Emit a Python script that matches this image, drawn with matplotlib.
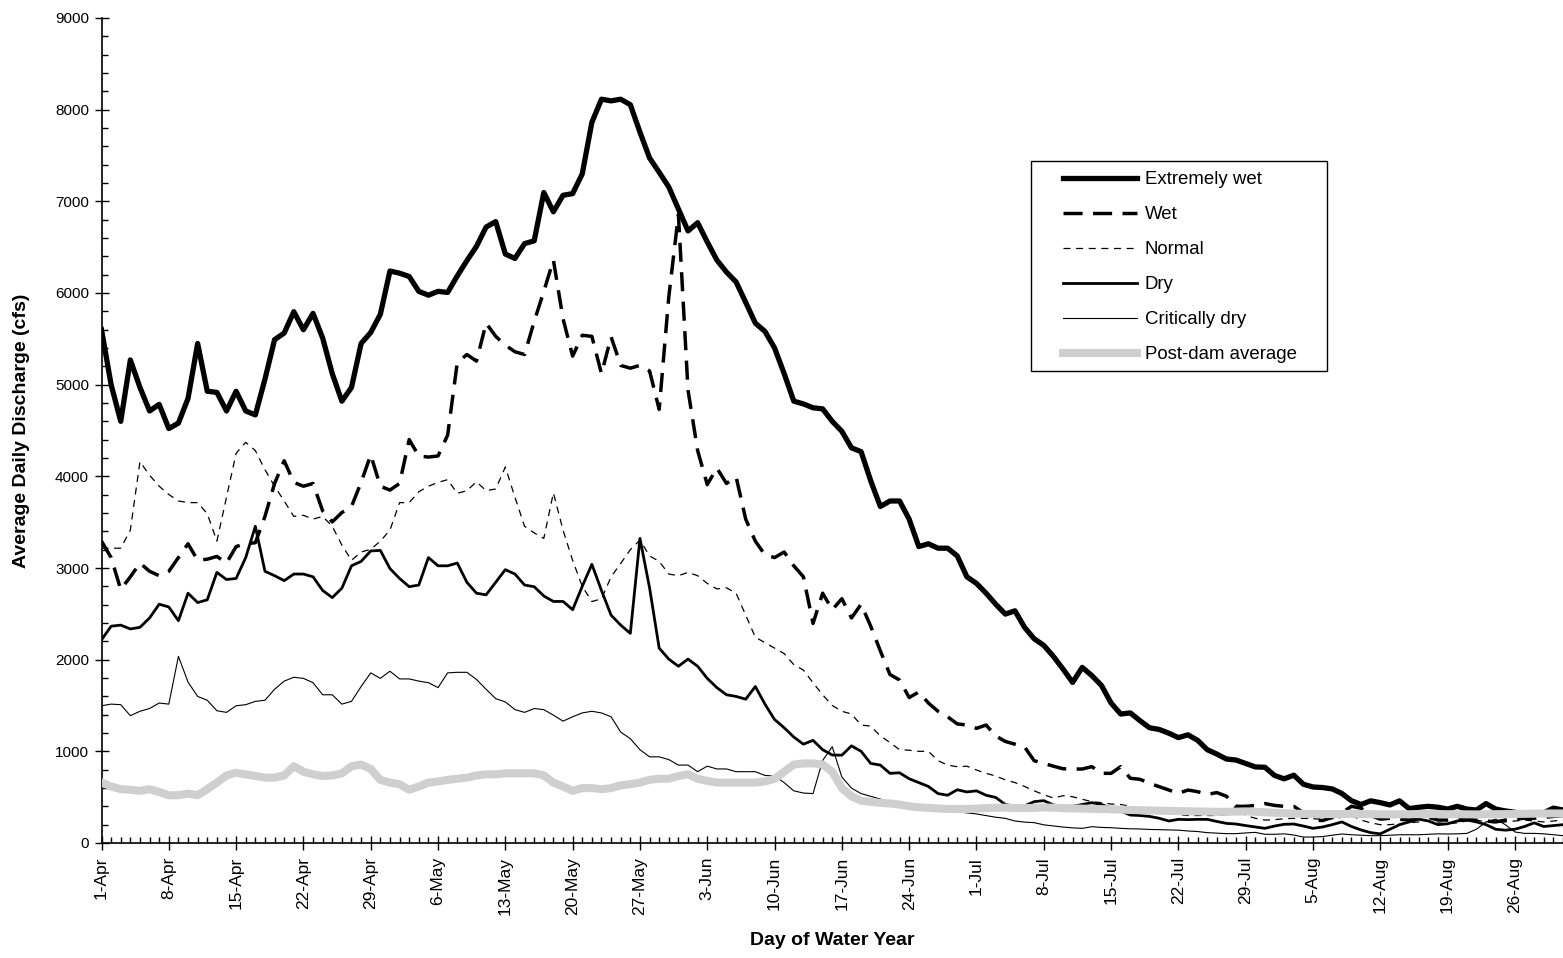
import numpy as np
import matplotlib
matplotlib.use("Agg")
import matplotlib.pyplot as plt
from matplotlib.ticker import MultipleLocator
from matplotlib.patches import Rectangle

plt.rcParams['font.family'] = ['Liberation Sans', 'DejaVu Sans']

# daily discharge (cfs), 1-Apr .. 31-Aug
extremely_wet = [
    5600, 5000, 4600, 5270, 4970, 4713, 4785, 4521, 4581, 4850,
    5449, 4928, 4916, 4713, 4928, 4713, 4670, 5060, 5491, 5563,
    5796, 5599, 5778, 5509, 5120, 4820, 4970, 5449, 5569, 5767,
    6240, 6216, 6180, 6018, 5976, 6018, 6006, 6186, 6353, 6509,
    6719, 6779, 6425, 6377, 6539, 6569, 7096, 6886, 7066, 7084,
    7300, 7862, 8114, 8096, 8114, 8054, 7755, 7473, 7317, 7156,
    6916, 6677, 6767, 6557, 6359, 6228, 6120, 5898, 5671, 5581,
    5401, 5120, 4820, 4790, 4748, 4736, 4600, 4491, 4311, 4269,
    3952, 3671, 3731, 3731, 3533, 3234, 3264, 3216, 3216, 3132,
    2904, 2832, 2725, 2605, 2497, 2533, 2353, 2228, 2156, 2036,
    1898, 1752, 1916, 1826, 1719, 1527, 1407, 1419, 1335, 1257,
    1239, 1198, 1150, 1180, 1120, 1018, 970, 916, 905, 868,
    830, 826, 737, 700, 740, 641, 611, 605, 590, 540,
    461, 420, 460, 440, 415, 460, 375, 390, 400, 390,
    370, 400, 370, 360, 430, 370, 350, 335, 311, 317,
    330, 380, 360,
]
wet = [
    3293, 3114, 2766, 2904, 3054, 2964, 2916, 2964, 3114, 3264,
    3084, 3096, 3126, 3054, 3234, 3264, 3276, 3563, 3922, 4170,
    3934, 3892, 3922, 3623, 3503, 3605, 3671, 3934, 4234, 3892,
    3850, 3922, 4401, 4222, 4210, 4222, 4450, 5240, 5329, 5257,
    5671, 5527, 5431, 5359, 5329, 5689, 6018, 6359, 5719, 5311,
    5539, 5527, 5120, 5521, 5210, 5180, 5210, 5150, 4730, 5958,
    6856, 4940, 4281, 3910, 4090, 3922, 3994, 3533, 3293, 3144,
    3114, 3174, 3024, 2904, 2395, 2725, 2545, 2665, 2455, 2605,
    2365, 2096, 1838, 1778, 1587, 1647, 1527, 1437, 1377, 1299,
    1287, 1251, 1287, 1168, 1108, 1078, 1048, 898, 868, 838,
    810, 807, 807, 833, 760, 760, 833, 706, 695, 651,
    615, 580, 542, 578, 560, 530, 550, 510, 400, 400,
    410, 430, 410, 400, 400, 330, 250, 245, 280, 330,
    400, 380, 300, 260, 270, 260, 250, 270, 280, 250,
    250, 260, 260, 250, 240, 230, 250, 260, 270, 270,
    280, 290, 300,
]
normal = [
    3216, 3216, 3216, 3413, 4161, 4012, 3892, 3802, 3731, 3713,
    3713, 3593, 3293, 3772, 4251, 4371, 4281, 4072, 3892, 3731,
    3563, 3575, 3533, 3563, 3455, 3250, 3084, 3174, 3204, 3293,
    3413, 3713, 3713, 3832, 3892, 3934, 3964, 3814, 3844, 3940,
    3844, 3862, 4102, 3772, 3455, 3383, 3323, 3820, 3413, 3084,
    2800, 2634, 2664, 2904, 3050, 3200, 3305, 3132, 3072, 2934,
    2916, 2952, 2916, 2832, 2772, 2784, 2725, 2485, 2245, 2186,
    2126, 2066, 1946, 1886, 1749, 1617, 1500, 1437, 1407, 1287,
    1275, 1168, 1096, 1018, 1012, 1000, 1000, 898, 850, 832,
    838, 796, 760, 731, 689, 659, 617, 569, 527, 490,
    516, 505, 477, 451, 440, 425, 420, 400, 360, 340,
    330, 320, 310, 300, 300, 300, 300, 310, 400, 300,
    270, 250, 255, 265, 269, 269, 265, 258, 265, 280,
    300, 250, 220, 200, 200, 210, 220, 230, 240, 220,
    210, 220, 240, 250, 230, 220, 230, 240, 250, 240,
    230, 240, 250,
]
dry = [
    2216, 2365, 2377, 2335, 2353, 2455, 2605, 2575, 2425, 2725,
    2623, 2653, 2952, 2874, 2886, 3114, 3455, 2964, 2916, 2862,
    2934, 2934, 2904, 2755, 2677, 2780, 3024, 3072, 3186, 3192,
    2994, 2886, 2796, 2814, 3114, 3024, 3024, 3054, 2844, 2725,
    2707, 2844, 2982, 2934, 2814, 2796, 2695, 2635, 2635, 2545,
    2800, 3040, 2755, 2485, 2377, 2287, 3323, 2784, 2126, 2006,
    1928, 2006, 1928, 1796, 1695, 1617, 1599, 1569, 1707, 1515,
    1347, 1257, 1156, 1078, 1120, 1018, 960, 958, 1060, 1000,
    868, 850, 760, 766, 701, 659, 617, 539, 521, 581,
    557, 569, 521, 497, 420, 400, 404, 451, 462, 415,
    400, 400, 420, 440, 420, 380, 350, 305, 300, 290,
    270, 240, 258, 255, 258, 258, 235, 214, 207, 190,
    175, 160, 185, 204, 207, 185, 160, 175, 200, 230,
    180, 142, 113, 100, 150, 200, 230, 260, 240, 200,
    210, 240, 250, 230, 200, 150, 140, 150, 180, 220,
    180, 190, 200,
]
critically_dry = [
    1497, 1515, 1509, 1389, 1437, 1467, 1527, 1515, 2036, 1755,
    1599, 1557, 1443, 1425, 1497, 1509, 1545, 1557, 1677, 1766,
    1808, 1796, 1749, 1617, 1617, 1515, 1545, 1707, 1856, 1796,
    1874, 1790, 1790, 1766, 1749, 1695, 1856, 1862, 1862, 1784,
    1677, 1575, 1539, 1455, 1425, 1467, 1455, 1395, 1329, 1377,
    1419, 1437, 1419, 1377, 1210, 1138, 1018, 940, 940, 910,
    850, 850, 778, 838, 808, 808, 778, 778, 778, 737,
    731, 659, 569, 545, 539, 900, 1050, 719, 599, 539,
    509, 479, 449, 437, 419, 401, 389, 371, 359, 341,
    329, 317, 299, 281, 269, 240, 228, 222, 198, 186,
    174, 165, 160, 178, 170, 167, 160, 155, 153, 148,
    145, 142, 140, 131, 125, 113, 108, 102, 102, 110,
    116, 95, 95, 100, 87, 65, 65, 70, 85, 98,
    90, 85, 80, 80, 85, 90, 90, 90, 95, 100,
    98, 100, 105, 150, 230, 260, 200, 120, 105, 105,
    100, 90, 80,
]
post_dam = [
    659, 617, 587, 581, 569, 587, 557, 521, 521, 539,
    521, 587, 659, 737, 766, 749, 731, 713, 713, 737,
    838, 778, 749, 731, 737, 760, 838, 856, 808, 689,
    659, 641, 581, 617, 659, 671, 689, 701, 713, 737,
    749, 749, 760, 760, 760, 760, 737, 659, 617, 569,
    599, 599, 587, 599, 629, 641, 659, 689, 701, 701,
    731, 749, 701, 677, 659, 659, 659, 659, 659, 671,
    701, 778, 856, 868, 868, 856, 778, 599, 509, 461,
    449, 437, 431, 419, 401, 389, 383, 377, 371, 371,
    371, 375, 380, 385, 385, 382, 380, 383, 388, 385,
    380, 378, 375, 372, 370, 368, 365, 360, 358, 355,
    352, 350, 348, 345, 345, 342, 340, 340, 342, 345,
    340, 335, 330, 325, 320, 318, 316, 315, 315, 316,
    318, 316, 315, 313, 312, 313, 315, 316, 316, 315,
    314, 313, 312, 312, 313, 314, 315, 316, 318, 320,
    322, 322, 322,
]

tick_labels = ['1-Apr', '8-Apr', '15-Apr', '22-Apr', '29-Apr', '6-May', '13-May',
               '20-May', '27-May', '3-Jun', '10-Jun', '17-Jun', '24-Jun', '1-Jul',
               '8-Jul', '15-Jul', '22-Jul', '29-Jul', '5-Aug', '12-Aug', '19-Aug',
               '26-Aug']

days = np.arange(len(extremely_wet))

W, H = 1563, 958
fig = plt.figure(figsize=(W / 100, H / 100), dpi=100)
ax = fig.add_axes([101.5 / W, 115 / H, 1461.5 / W, 825 / H])

ax.plot(days, extremely_wet, color='black', lw=3.8, label='Extremely wet', zorder=3)
ax.plot(days, wet, color='black', lw=2.5, dashes=(5.5, 3.0), label='Wet', zorder=3)
ax.plot(days, normal, color='black', lw=0.9, dashes=(5.6, 4.5), label='Normal', zorder=3)
ax.plot(days, dry, color='black', lw=2.0, label='Dry', zorder=3)
ax.plot(days, critically_dry, color='black', lw=0.8, label='Critically dry', zorder=3)
ax.plot(days, post_dam, color='#cfcfcf', lw=5.8, label='Post-dam average', zorder=4)

ax.set_xlim(0, len(days) - 1)
ax.set_ylim(0, 9000)
ax.set_xticks(np.arange(0, len(days), 7)[:len(tick_labels)])
ax.set_xticklabels(tick_labels, rotation=90)
ax.xaxis.set_minor_locator(MultipleLocator(1))
ax.yaxis.set_major_locator(MultipleLocator(1000))
ax.yaxis.set_minor_locator(MultipleLocator(200))

ax.tick_params(axis='both', which='major', direction='inout', length=10, width=1)
ax.tick_params(axis='both', which='minor', direction='in', length=4.5, width=1)
ax.tick_params(axis='y', which='major', pad=4, labelsize=11)
ax.tick_params(axis='x', which='major', pad=5, labelsize=12.5)

for side in ['top', 'right']:
    ax.spines[side].set_visible(False)
for side in ['left', 'bottom']:
    ax.spines[side].set_linewidth(1.2)

ax.set_xlabel('Day of Water Year', fontsize=14, fontweight='bold', labelpad=12)
ax.set_ylabel('Average Daily Discharge (cfs)', fontsize=14, fontweight='bold', labelpad=18)

# legend frame drawn separately so it can be wider than its contents
fig.patches.append(Rectangle((1031 / W, 1 - 371 / H), 296 / W, 210 / H,
                             transform=fig.transFigure, facecolor='white',
                             edgecolor='black', lw=1.0, zorder=5))
leg = fig.legend(loc='upper left', bbox_to_anchor=(1063 / W, 1 - 171 / H),
                 fontsize=13.4, frameon=False,
                 handlelength=4.0, handletextpad=0.38, labelspacing=0.97,
                 borderpad=0, borderaxespad=0)
leg.set_zorder(6)

fig.savefig('out.png', dpi=100)
